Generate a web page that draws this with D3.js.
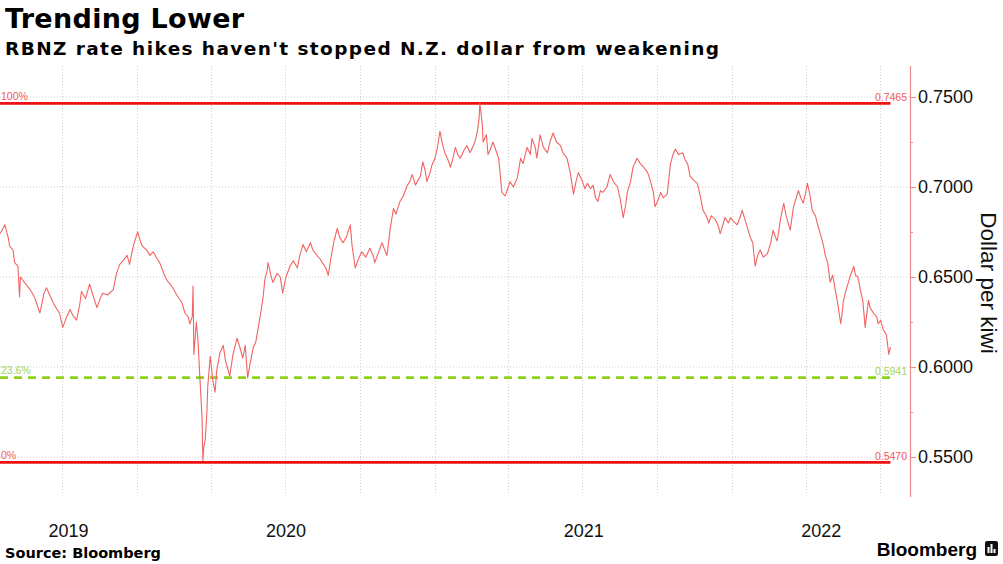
<!DOCTYPE html>
<html><head><meta charset="utf-8">
<script src="https://cdn.jsdelivr.net/npm/d3@7"></script>
<style>body{margin:0;background:#fff;} svg{display:block;}</style>
</head><body>
<svg id="chart" width="1003" height="564"></svg>
<script>
const dates = [
"2019-07-17","2019-07-23","2019-07-27","2019-07-29","2019-08-02","2019-08-04","2019-08-08","2019-08-10","2019-08-11","2019-08-16",
"2019-08-23","2019-08-29","2019-09-04","2019-09-09","2019-09-12","2019-09-16","2019-09-20","2019-09-25","2019-09-28","2019-10-02",
"2019-10-07","2019-10-11","2019-10-14","2019-10-19","2019-10-23","2019-10-25","2019-10-30","2019-11-04","2019-11-08","2019-11-13",
"2019-11-17","2019-11-20","2019-11-26","2019-12-03","2019-12-07","2019-12-11","2019-12-15","2019-12-20","2019-12-23","2019-12-28",
"2020-01-02","2020-01-06","2020-01-08","2020-01-13","2020-01-17","2020-01-21","2020-01-26","2020-01-29","2020-02-03","2020-02-07",
"2020-02-11","2020-02-14","2020-02-19","2020-02-25","2020-02-29","2020-03-04","2020-03-06","2020-03-09","2020-03-10","2020-03-11",
"2020-03-14","2020-03-16","2020-03-18","2020-03-21","2020-03-22","2020-03-23","2020-03-25","2020-03-27","2020-03-28","2020-03-31",
"2020-04-02","2020-04-03","2020-04-06","2020-04-08","2020-04-12","2020-04-16","2020-04-19","2020-04-24","2020-04-28","2020-05-03",
"2020-05-07","2020-05-10","2020-05-13","2020-05-16","2020-05-19","2020-05-23","2020-05-26","2020-05-29","2020-06-01","2020-06-04",
"2020-06-06","2020-06-09","2020-06-10","2020-06-14","2020-06-16","2020-06-21","2020-06-25","2020-06-28","2020-07-02","2020-07-07",
"2020-07-11","2020-07-16","2020-07-19","2020-07-23","2020-07-27","2020-08-01","2020-08-04","2020-08-09","2020-08-13","2020-08-17",
"2020-08-20","2020-08-23","2020-08-26","2020-08-30","2020-09-03","2020-09-06","2020-09-10","2020-09-14","2020-09-19","2020-09-21",
"2020-09-25","2020-09-29","2020-10-03","2020-10-08","2020-10-13","2020-10-17","2020-10-19","2020-10-23","2020-10-28","2020-11-01",
"2020-11-03","2020-11-07","2020-11-11","2020-11-14","2020-11-19","2020-11-23","2020-11-28","2020-12-01","2020-12-04","2020-12-08",
"2020-12-10","2020-12-14","2020-12-17","2020-12-20","2020-12-22","2020-12-26","2020-12-28",
"2021-01-01","2021-01-04","2021-01-07","2021-01-10","2021-01-13","2021-01-17","2021-01-20","2021-01-23","2021-01-26","2021-01-29",
"2021-02-01","2021-02-05","2021-02-09","2021-02-13","2021-02-16","2021-02-19","2021-02-22","2021-02-24","2021-02-25","2021-02-28",
"2021-03-01","2021-03-05","2021-03-07","2021-03-10","2021-03-13","2021-03-17","2021-03-20","2021-03-22","2021-03-24","2021-03-28",
"2021-04-01","2021-04-03","2021-04-07","2021-04-12","2021-04-16","2021-04-19","2021-04-24","2021-04-28","2021-04-30","2021-05-04",
"2021-05-06","2021-05-10","2021-05-14","2021-05-19","2021-05-22","2021-05-26","2021-05-30","2021-06-04","2021-06-07","2021-06-12",
"2021-06-16","2021-06-20","2021-06-23","2021-06-26","2021-07-01","2021-07-04","2021-07-07","2021-07-11","2021-07-14","2021-07-17",
"2021-07-20","2021-07-23","2021-07-26","2021-07-31","2021-08-04","2021-08-08","2021-08-13","2021-08-16","2021-08-20","2021-08-23",
"2021-08-25","2021-08-29","2021-09-01","2021-09-06","2021-09-10","2021-09-14","2021-09-19","2021-09-22","2021-09-26","2021-09-28",
"2021-10-02","2021-10-05","2021-10-08","2021-10-13","2021-10-17","2021-10-20","2021-10-23","2021-10-27","2021-11-01","2021-11-04",
"2021-11-07","2021-11-10","2021-11-14","2021-11-19","2021-11-23","2021-11-26","2021-11-30","2021-12-03","2021-12-06","2021-12-11",
"2021-12-15","2021-12-17","2021-12-21","2021-12-23","2021-12-27","2021-12-30",
"2022-01-02","2022-01-07","2022-01-11","2022-01-13","2022-01-17","2022-01-19","2022-01-23","2022-01-26","2022-01-29","2022-02-01",
"2022-02-04","2022-02-08","2022-02-13","2022-02-17","2022-02-20","2022-02-23","2022-02-25","2022-03-01","2022-03-05","2022-03-08",
"2022-03-13","2022-03-17","2022-03-21","2022-03-23","2022-03-26","2022-03-29","2022-04-01","2022-04-03","2022-04-06","2022-04-09",
"2022-04-13","2022-04-15","2022-04-19","2022-04-23","2022-04-25","2022-04-28","2022-05-01","2022-05-04","2022-05-08","2022-05-10",
"2022-05-14","2022-05-16","2022-05-17","2022-05-20","2022-05-24","2022-05-26","2022-05-30","2022-06-01","2022-06-04","2022-06-07",
"2022-06-10","2022-06-13","2022-06-17","2022-06-19","2022-06-23","2022-06-27","2022-06-29","2022-07-02","2022-07-05","2022-07-09",
"2022-07-12","2022-07-14"
];
const values = [
0.674,0.679,0.672,0.667,0.665,0.658,0.656,0.639,0.650,0.647,
0.643,0.638,0.630,0.641,0.644,0.640,0.636,0.632,0.630,0.622,
0.628,0.632,0.629,0.626,0.635,0.642,0.638,0.646,0.640,0.633,
0.638,0.641,0.640,0.643,0.652,0.657,0.659,0.662,0.657,0.668,
0.675,0.669,0.667,0.665,0.662,0.664,0.660,0.658,0.652,0.648,
0.646,0.644,0.640,0.636,0.630,0.628,0.624,0.628,0.645,0.607,
0.625,0.615,0.597,0.572,0.548,0.555,0.560,0.575,0.589,0.606,
0.598,0.593,0.586,0.598,0.608,0.612,0.603,0.595,0.607,0.616,
0.610,0.605,0.612,0.594,0.602,0.611,0.614,0.622,0.630,0.639,
0.648,0.654,0.658,0.650,0.647,0.652,0.650,0.641,0.650,0.656,
0.659,0.655,0.662,0.668,0.664,0.669,0.665,0.662,0.660,0.657,
0.655,0.651,0.660,0.670,0.677,0.672,0.669,0.672,0.679,0.668,
0.655,0.660,0.664,0.661,0.666,0.662,0.658,0.663,0.669,0.664,
0.662,0.677,0.688,0.685,0.692,0.695,0.701,0.703,0.707,0.701,
0.703,0.706,0.714,0.709,0.703,0.708,0.712,
0.716,0.722,0.731,0.724,0.719,0.715,0.711,0.716,0.722,0.718,
0.716,0.720,0.723,0.719,0.722,0.725,0.731,0.738,0.7465,0.735,
0.725,0.729,0.718,0.721,0.725,0.720,0.716,0.707,0.697,0.695,
0.700,0.703,0.700,0.705,0.716,0.713,0.722,0.718,0.727,0.722,
0.716,0.729,0.722,0.719,0.725,0.730,0.725,0.723,0.719,0.716,
0.708,0.696,0.703,0.708,0.703,0.699,0.702,0.699,0.701,0.694,
0.692,0.698,0.697,0.700,0.707,0.703,0.700,0.694,0.683,0.690,
0.697,0.703,0.711,0.716,0.713,0.711,0.708,0.704,0.697,0.689,
0.693,0.697,0.694,0.696,0.713,0.718,0.721,0.718,0.719,0.715,
0.713,0.706,0.704,0.702,0.694,0.687,0.684,0.680,0.684,0.682,
0.678,0.674,0.680,0.683,0.680,0.683,
0.681,0.679,0.684,0.687,0.681,0.678,0.672,0.669,0.656,0.662,
0.665,0.661,0.663,0.669,0.676,0.672,0.670,0.682,0.691,0.684,
0.676,0.689,0.695,0.698,0.694,0.691,0.697,0.702,0.696,0.687,
0.684,0.680,0.674,0.667,0.662,0.658,0.647,0.651,0.641,0.636,
0.624,0.631,0.636,0.642,0.648,0.651,0.656,0.651,0.650,0.643,
0.637,0.622,0.637,0.633,0.630,0.628,0.624,0.626,0.621,0.618,
0.607,0.611
];
const fibValues = [0.7465, 0.5941, 0.5470];
const fibLabels = ["100%", "23.6%", "0%"];
const fibValueLabels = ["0.7465", "0.5941", "0.5470"];
const yTicks = [0.55, 0.60, 0.65, 0.70, 0.75];
const yMinorTicks = [0.575, 0.625, 0.675, 0.725];
const yearLabels = ["2019", "2020", "2021", "2022"];
const xDomain = ["2019-07-17", "2022-08-07"];

const parse = d3.utcParse("%Y-%m-%d");
const data = dates.map((d, i) => ({date: parse(d), value: values[i]}));

const svg = d3.select("#chart");
const plotLeft = 0, plotRight = 910, plotTop = 66, plotBottom = 495;

const x = d3.scaleUtc().domain(xDomain.map(parse)).range([plotLeft, plotRight]);
const y = d3.scaleLinear().domain([0.55, 0.75]).range([457, 97]);

// Title
svg.append("text").attr("x", 5).attr("y", 28)
  .attr("font-family", "DejaVu Sans").attr("font-weight", "bold").attr("font-size", 27)
  .attr("letter-spacing", 0.3)
  .attr("fill", "#000").text("Trending Lower");
svg.append("text").attr("x", 5).attr("y", 55)
  .attr("font-family", "DejaVu Sans").attr("font-weight", "bold").attr("font-size", 18.5)
  .attr("letter-spacing", 1.4)
  .attr("fill", "#000").text("RBNZ rate hikes haven't stopped N.Z. dollar from weakening");

// Grid
const grid = svg.append("g");
grid.selectAll("line.h").data(yTicks).join("line")
  .attr("x1", plotLeft).attr("x2", plotRight)
  .attr("y1", d => y(d)).attr("y2", d => y(d))
  .attr("stroke", "#cfcfcf").attr("stroke-width", 1).attr("stroke-dasharray", "1,2");
const quarters = x.ticks(d3.utcMonth.every(3));
grid.selectAll("line.v").data(quarters).join("line")
  .attr("x1", d => Math.round(x(d)) + 0.5).attr("x2", d => Math.round(x(d)) + 0.5)
  .attr("y1", plotTop).attr("y2", plotBottom)
  .attr("stroke", "#cfcfcf").attr("stroke-width", 1).attr("stroke-dasharray", "1,2");

// Right axis
const axisColor = "#f28b8b";
const yAxis = svg.append("g").attr("transform", `translate(${plotRight},0)`)
  .call(d3.axisRight(y).tickValues(yTicks).tickFormat(d3.format(".4f")).tickSize(6).tickPadding(2));
yAxis.select(".domain").remove();
yAxis.selectAll(".tick line").attr("stroke", axisColor);
yAxis.selectAll(".tick text").attr("font-family", "Liberation Sans, Arial, sans-serif")
  .attr("font-size", 18).attr("fill", "#111");
const yMinor = svg.append("g").attr("transform", `translate(${plotRight},0)`)
  .call(d3.axisRight(y).tickValues(yMinorTicks).tickFormat("").tickSize(3));
yMinor.select(".domain").remove();
yMinor.selectAll(".tick line").attr("stroke", axisColor);
svg.append("line").attr("x1", plotRight + 0.5).attr("x2", plotRight + 0.5)
  .attr("y1", plotTop).attr("y2", 497).attr("stroke", axisColor).attr("stroke-width", 1.2);

svg.append("text")
  .attr("transform", `translate(981,283) rotate(90)`)
  .attr("text-anchor", "middle")
  .attr("font-family", "Liberation Sans, Arial, sans-serif").attr("font-size", 22.5)
  .attr("fill", "#111").text("Dollar per kiwi");

// Year labels
const [d0, d1] = x.domain();
yearLabels.forEach(yr => {
  const s = new Date(Date.UTC(+yr, 0, 1)), e = new Date(Date.UTC(+yr + 1, 0, 1));
  const a = x(s < d0 ? d0 : s), b = x(e > d1 ? d1 : e);
  svg.append("text").attr("x", (a + b) / 2).attr("y", 537)
    .attr("text-anchor", "middle")
    .attr("font-family", "Liberation Sans, Arial, sans-serif").attr("font-size", 18)
    .attr("fill", "#111").text(yr);
});

// Fibonacci levels
const lastX = x(data[data.length - 1].date);
const fibColors = ["#ee1111", "#8fd11e", "#ee1111"];
const fibTextColors = ["#f05a5a", "#a2d45a", "#f05a5a"];
fibValues.forEach((v, i) => {
  svg.append("line").attr("x1", plotLeft).attr("x2", lastX)
    .attr("y1", y(v)).attr("y2", y(v))
    .attr("stroke", fibColors[i]).attr("stroke-width", 2.7)
    .attr("stroke-dasharray", i === 1 ? "8,6" : null);
  svg.append("text").attr("x", 1).attr("y", y(v) - 3.5)
    .attr("font-family", "Liberation Sans, Arial, sans-serif").attr("font-size", 10.5)
    .attr("fill", fibTextColors[i]).text(fibLabels[i]);
  svg.append("text").attr("x", 907).attr("y", y(v) - 2.5).attr("text-anchor", "end")
    .attr("font-family", "Liberation Sans, Arial, sans-serif").attr("font-size", 10.5)
    .attr("fill", fibTextColors[i]).text(fibValueLabels[i]);
});

// Data line
svg.append("path").datum(data)
  .attr("fill", "none").attr("stroke", "#f26464").attr("stroke-width", 1.1)
  .attr("stroke-linejoin", "round")
  .attr("d", d3.line().x(d => x(d.date)).y(d => y(d.value)));

// Footer
svg.append("text").attr("x", 5).attr("y", 558)
  .attr("font-family", "DejaVu Sans").attr("font-weight", "bold").attr("font-size", 14.5)
  .attr("fill", "#000").text("Source: Bloomberg");
svg.append("text").attr("x", 977).attr("y", 556).attr("text-anchor", "end")
  .attr("font-family", "Liberation Sans, Arial, sans-serif").attr("font-weight", "bold").attr("font-size", 19)
  .attr("fill", "#000").text("Bloomberg");
const logo = svg.append("g").attr("transform", "translate(985,541)");
logo.append("rect").attr("width", 13).attr("height", 15).attr("rx", 2).attr("fill", "#111");
[[3, 6, 2, 6], [6, 3, 2, 9], [9, 8, 2, 4]].forEach(([bx, by, bw, bh]) =>
  logo.append("rect").attr("x", bx - 0.5).attr("y", by).attr("width", bw).attr("height", bh).attr("fill", "#fff"));
</script>
</body></html>
